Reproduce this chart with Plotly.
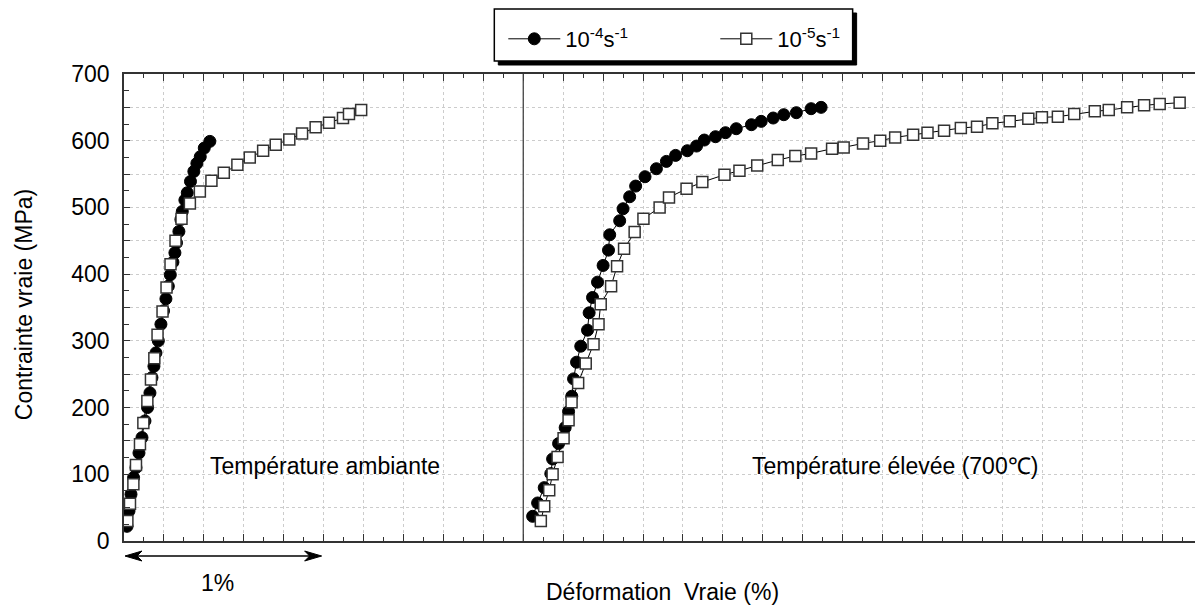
import plotly.graph_objects as go

# ---------------- data (strain %, true stress MPa) ----------------
# Room temperature, 1e-4 s^-1 (filled circles)
amb_fast_x = [0.015, 0.025, 0.035, 0.048, 0.06, 0.075, 0.09, 0.105, 0.118, 0.13, 0.14, 0.15, 0.16,
              0.172, 0.185, 0.198, 0.21, 0.222, 0.232, 0.245, 0.255, 0.263, 0.275, 0.285, 0.292,
              0.305, 0.317, 0.333, 0.35, 0.365, 0.382, 0.402, 0.43]
amb_fast_y = [22, 45, 70, 95, 110, 132, 155, 180, 200, 222, 245, 262, 282,
              300, 325, 345, 363, 382, 399, 418, 432, 447, 464, 482, 494,
              511, 522, 539, 554, 566, 576, 589, 599]

# Room temperature, 1e-5 s^-1 (open squares)
amb_slow_x = [0.017, 0.03, 0.047, 0.06, 0.08, 0.097, 0.117, 0.135, 0.152, 0.168, 0.193, 0.213,
              0.233, 0.258, 0.288, 0.33, 0.38, 0.438, 0.5, 0.568, 0.63, 0.697, 0.76, 0.828,
              0.892, 0.96, 1.027, 1.097, 1.127, 1.188]
amb_slow_y = [30, 56, 85, 114, 145, 177, 210, 242, 274, 309, 344, 380,
              415, 450, 483, 506, 524, 540, 552, 564, 575, 585, 594, 602,
              611, 620, 627, 634, 640, 646]

# 700 C, 1e-4 s^-1 (filled circles)
hot_fast_x = [2.047, 2.072, 2.105, 2.138, 2.147, 2.177, 2.21, 2.227, 2.243, 2.252, 2.267, 2.288,
              2.322, 2.33, 2.347, 2.372, 2.4, 2.427, 2.433, 2.483, 2.5, 2.533, 2.563, 2.61,
              2.667, 2.717, 2.763, 2.822, 2.868, 2.907, 2.963, 3.013, 3.067, 3.143, 3.192,
              3.252, 3.305, 3.368, 3.442, 3.492]
hot_fast_y = [37, 57, 80, 101, 123, 146, 170, 194, 217, 243, 268, 292,
              316, 342, 365, 388, 413, 436, 459, 480, 498, 516, 532, 546,
              558, 569, 578, 585, 592, 601, 606, 612, 618, 624, 629,
              634, 639, 642, 648, 650]

# 700 C, 1e-5 s^-1 (open squares)
hot_slow_x = [2.088, 2.105, 2.13, 2.147, 2.172, 2.202, 2.227, 2.242, 2.275, 2.313, 2.352, 2.377,
              2.388, 2.44, 2.47, 2.505, 2.558, 2.602, 2.683, 2.73, 2.818, 2.897, 3.008, 3.083,
              3.172, 3.275, 3.363, 3.442, 3.547, 3.605, 3.702, 3.788, 3.863, 3.953, 4.025,
              4.108, 4.192, 4.273, 4.35, 4.437, 4.53, 4.598, 4.678, 4.76, 4.863, 4.933,
              5.025, 5.11, 5.188, 5.288]
hot_slow_y = [30, 52, 76, 100, 126, 154, 181, 208, 237, 266, 295, 325,
              355, 382, 412, 438, 463, 483, 500, 515, 528, 538, 549, 555,
              563, 571, 577, 581, 588, 590, 596, 600, 605, 609, 612,
              615, 619, 621, 626, 629, 633, 635, 636, 640, 644, 646,
              650, 653, 655, 657]

names = ["10<sup>-4</sup>s<sup>-1</sup>", "10<sup>-5</sup>s<sup>-1</sup>"]
y_ticks = list(range(0, 701, 50))
y_ticktext = [str(v) if v % 100 == 0 else "" for v in y_ticks]
scale_bar = [0.005, 0.99]   # the "1%" scale arrow, in strain %

FONT = "Liberation Sans, Arial, sans-serif"
FS = 23

# ---------------- layout geometry (page has an 8px body margin) ----------------
OFF = 8
W, H = 1203 - OFF, 605 - OFF
ML, MR, MT, MB = 124 - OFF, 0, 74 - OFF, 64
PW, PH = W - ML - MR, H - MT - MB


def px_to_paper_x(px):
    return (px - OFF - ML) / PW


def px_to_paper_y(py):
    return (OFF + MT + PH - py) / PH


circle = dict(symbol="circle", size=12, color="black", line=dict(color="black", width=1))
square = dict(symbol="square", size=11, color="white", line=dict(color="#333333", width=1.5))

fig = go.Figure()
fig.add_trace(go.Scatter(x=amb_fast_x, y=amb_fast_y, mode="lines+markers", name=names[0],
                         legendgroup="a", line=dict(color="black", width=1), marker=circle))
fig.add_trace(go.Scatter(x=amb_slow_x, y=amb_slow_y, mode="lines+markers", name=names[1],
                         legendgroup="b", line=dict(color="black", width=1), marker=square))
fig.add_trace(go.Scatter(x=hot_fast_x, y=hot_fast_y, mode="lines+markers", name=names[0],
                         legendgroup="a", showlegend=False,
                         line=dict(color="black", width=1), marker=circle))
fig.add_trace(go.Scatter(x=hot_slow_x, y=hot_slow_y, mode="lines+markers", name=names[1],
                         legendgroup="b", showlegend=False,
                         line=dict(color="black", width=1), marker=square))

# separator between the two test conditions
fig.add_shape(type="line", xref="x", yref="y", x0=2.0, x1=2.0, y0=0, y1=700,
              line=dict(color="#444444", width=1.3), layer="above")

# legend box with drop shadow
lx0, lx1, ly0, ly1 = 495, 854, 9, 61
fig.add_shape(type="rect", xref="paper", yref="paper",
              x0=px_to_paper_x(lx0 + 4), x1=px_to_paper_x(lx1 + 4),
              y0=px_to_paper_y(ly1 + 4), y1=px_to_paper_y(ly0 + 4),
              fillcolor="black", line=dict(color="black", width=1), layer="above")
fig.add_shape(type="rect", xref="paper", yref="paper",
              x0=px_to_paper_x(lx0), x1=px_to_paper_x(lx1),
              y0=px_to_paper_y(ly1), y1=px_to_paper_y(ly0),
              fillcolor="white", line=dict(color="black", width=1.5), layer="above")

# "1%" scale arrow (double headed)
ya = px_to_paper_y(556)
fig.add_shape(type="line", xref="x", yref="paper", x0=scale_bar[0] + 0.03, x1=scale_bar[1] - 0.03,
              y0=ya, y1=ya, line=dict(color="black", width=1.5))
fig.add_shape(type="path", xref="x", yref="paper", xsizemode="pixel", ysizemode="pixel",
              xanchor=scale_bar[0], yanchor=ya, path="M0,0 L17,5 L12,0 L17,-5 Z",
              fillcolor="black", line=dict(color="black", width=1))
fig.add_shape(type="path", xref="x", yref="paper", xsizemode="pixel", ysizemode="pixel",
              xanchor=scale_bar[1], yanchor=ya, path="M0,0 L-17,5 L-12,0 L-17,-5 Z",
              fillcolor="black", line=dict(color="black", width=1))

annotations = [
    dict(text="Température ambiante", x=px_to_paper_x(325), y=px_to_paper_y(466),
         xref="paper", yref="paper", xanchor="center", yanchor="middle", showarrow=False,
         font=dict(size=FS, color="black", family=FONT)),
    dict(text="Température élevée (700℃)", x=px_to_paper_x(896), y=px_to_paper_y(466),
         xref="paper", yref="paper", xanchor="center", yanchor="middle", showarrow=False,
         font=dict(size=FS, color="black", family=FONT)),
    dict(text="1%", x=px_to_paper_x(218), y=px_to_paper_y(583), xref="paper", yref="paper",
         xanchor="center", yanchor="middle", showarrow=False,
         font=dict(size=FS, color="black", family=FONT)),
    dict(text="Déformation\u00a0\u00a0Vraie (%)", x=px_to_paper_x(663), y=px_to_paper_y(592),
         xref="paper", yref="paper", xanchor="center", yanchor="middle", showarrow=False,
         font=dict(size=FS, color="black", family=FONT)),
    dict(text="Contrainte vraie (MPa)", x=px_to_paper_x(24), y=px_to_paper_y(305),
         xref="paper", yref="paper", xanchor="center", yanchor="middle", showarrow=False,
         textangle=-90, font=dict(size=FS, color="black", family=FONT)),
]

fig.update_layout(
    width=W, height=H,
    margin=dict(l=ML, r=MR, t=MT, b=MB, pad=0),
    paper_bgcolor="white", plot_bgcolor="white",
    font=dict(family=FONT, size=FS, color="black"),
    showlegend=True,
    legend=dict(orientation="h", x=px_to_paper_x(504), y=px_to_paper_y(18),
                xanchor="left", yanchor="top", bgcolor="rgba(0,0,0,0)", borderwidth=0,
                font=dict(size=22, family=FONT, color="black"),
                entrywidth=145, itemwidth=52),
    annotations=annotations,
)

fig.update_xaxes(range=[0, PW / 200.0], showticklabels=False,
                 dtick=0.2, tick0=0, ticks="inside", ticklen=7, tickcolor="#333333",
                 showline=True, linecolor="#333333", linewidth=1.5, mirror="allticks",
                 showgrid=True, gridcolor="#cccccc", griddash="dot", gridwidth=1,
                 minor=dict(dtick=0.1, ticks="inside", ticklen=4, tickcolor="#333333", showgrid=False),
                 zeroline=False)
fig.update_yaxes(range=[0, 700], tickvals=y_ticks, ticktext=y_ticktext,
                 ticks="inside", ticklen=6, tickcolor="#333333", ticklabelstandoff=8,
                 tickfont=dict(size=FS, family=FONT, color="black"),
                 showline=True, linecolor="#333333", linewidth=1.5, mirror="allticks",
                 showgrid=True, gridcolor="#cccccc", griddash="dot", gridwidth=1,
                 minor=dict(dtick=25, ticks="inside", ticklen=5, tickcolor="#333333", showgrid=False),
                 zeroline=False)

fig.write_html("out.html")
